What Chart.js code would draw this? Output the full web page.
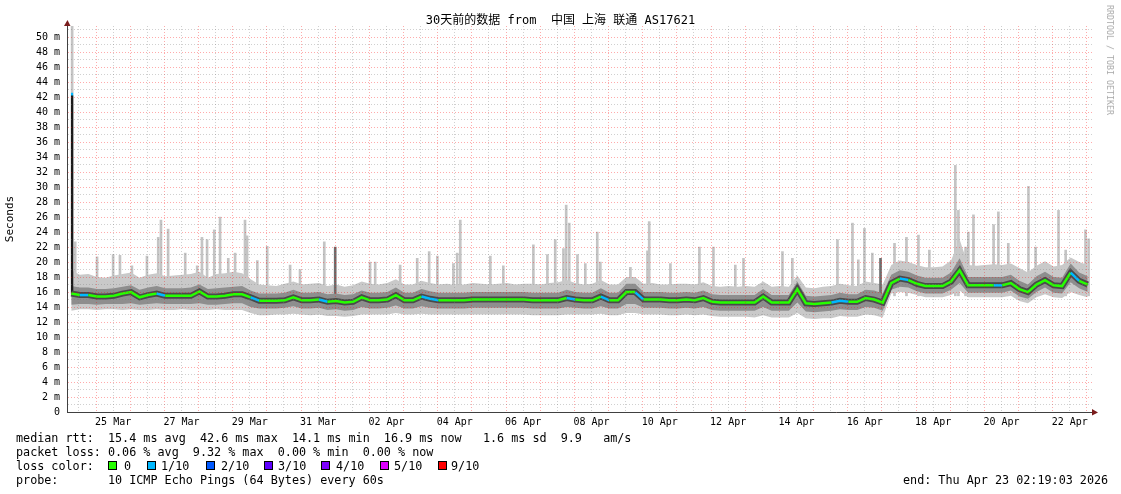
<!DOCTYPE html>
<html>
<head>
<meta charset="utf-8">
<script src="https://cdn.jsdelivr.net/npm/chart.js@4.4.1/dist/chart.umd.min.js"></script>
<style>
  html, body { margin: 0; padding: 0; background: #fff; }
  #wrap { position: relative; width: 1121px; height: 494px; overflow: hidden; }
  #chart { position: absolute; left: 0; top: 0; }
  .mono { position: absolute; font-family: "DejaVu Sans Mono", monospace; color: #000; white-space: pre; line-height: 14px; }
  #title { top: 13px; left: 0; width: 1121px; text-align: center; font-size: 12px; font-family: "DejaVu Sans Mono", "Noto Sans CJK SC", monospace; }
  .leg { left: 16px; font-size: 11.75px; }
  .box { position: absolute; width: 7px; height: 7px; border: 1px solid #000; }
  #mark { left: 1110px; top: 60px; font-size: 8.3px; color: #aaa; transform: translate(-50%, -50%) rotate(90deg); }
</style>
</head>
<body>
<div id="wrap">
  <canvas id="chart" width="1121" height="494"></canvas>
  <div id="title" class="mono">30天前的数据 from  中国 上海 联通 AS17621</div>
  <div id="mark" class="mono">RRDTOOL / TOBI OETIKER</div>
  <div class="mono leg" style="top:431px">median rtt:  15.4 ms avg  42.6 ms max  14.1 ms min  16.9 ms now   1.6 ms sd  9.9   am/s</div>
  <div class="mono leg" style="top:445px">packet loss: 0.06 % avg  9.32 % max  0.00 % min  0.00 % now</div>
  <div class="mono leg" style="top:459px">loss color:</div>
  <div class="mono leg" style="top:473px">probe:       10 ICMP Echo Pings (64 Bytes) every 60s</div>
  <div class="mono leg" style="top:473px;left:903px">end: Thu Apr 23 02:19:03 2026</div>
  <div id="lossRow"></div>
</div>
<script>
// x axis: days since 24 Mar 00:00, one bin every 6 hours
const startDay = 0.15;
const binDays = 0.25;
const xLabels = ['25 Mar', '27 Mar', '29 Mar', '31 Mar', '02 Apr', '04 Apr', '06 Apr', '08 Apr',
                 '10 Apr', '12 Apr', '14 Apr', '16 Apr', '18 Apr', '20 Apr', '22 Apr'];

// median rtt (ms)
const med = [
  15.8, 15.6, 15.6, 15.4, 15.4, 15.5, 15.8, 16.0, 15.3, 15.6,
  15.8, 15.5, 15.5, 15.5, 15.5, 16.1, 15.4, 15.4, 15.5, 15.7,
  15.7, 15.3, 14.85, 14.85, 14.85, 14.9, 15.3, 14.9, 14.9, 15.0,
  14.7, 14.8, 14.6, 14.7, 15.3, 14.9, 14.9, 15.0, 15.6, 14.9,
  14.9, 15.4, 15.1, 14.9, 14.9, 14.9, 14.9, 15.0, 15.0, 15.0,
  15.0, 15.0, 15.0, 15.0, 14.9, 14.9, 14.9, 14.9, 15.2, 15.0,
  14.9, 14.9, 15.4, 14.9, 14.9, 16.0, 16.0, 15.0, 15.0, 15.0,
  14.9, 14.9, 15.0, 14.9, 15.2, 14.7, 14.6, 14.6, 14.6, 14.6,
  14.6, 15.4, 14.6, 14.6, 14.6, 16.4, 14.5, 14.4, 14.5, 14.6,
  14.85, 14.7, 14.7, 15.2, 15.0, 14.6, 17.2, 17.8, 17.6, 17.1,
  16.8, 16.8, 16.8, 17.4, 18.9, 16.9, 16.9, 16.9, 16.9, 16.9,
  17.2, 16.4, 16.0, 17.0, 17.6, 16.9, 16.8, 18.6, 17.5, 17.0
];
// lowest ping of each bin
const lo = [
  13.5, 13.7, 13.7, 13.6, 13.7, 13.7, 13.6, 13.7, 13.6, 13.6,
  13.7, 13.6, 13.6, 13.7, 13.6, 13.6, 13.6, 13.7, 13.6, 13.6,
  13.6, 13.2, 12.9, 12.9, 13.0, 13.0, 13.1, 13.0, 12.9, 13.0,
  12.8, 12.8, 12.7, 12.8, 13.0, 13.0, 13.0, 13.0, 13.2, 13.0,
  13.0, 13.1, 13.0, 13.0, 13.0, 13.0, 13.0, 13.0, 13.0, 13.0,
  13.0, 13.0, 13.0, 13.0, 12.9, 12.9, 12.9, 12.9, 13.0, 13.0,
  13.0, 13.0, 13.1, 12.9, 12.9, 13.2, 13.2, 13.0, 13.0, 13.0,
  12.9, 12.9, 13.0, 12.9, 13.0, 12.8, 12.7, 12.7, 12.7, 12.7,
  12.6, 12.9, 12.6, 12.6, 12.6, 13.2, 12.5, 12.4, 12.5, 12.5,
  12.8, 12.7, 12.7, 13.0, 12.9, 12.6, 15.8, 16.0, 15.9, 15.6,
  15.3, 15.3, 15.3, 15.6, 16.2, 15.3, 15.3, 15.3, 15.3, 15.3,
  15.5, 14.8, 14.5, 15.3, 15.7, 15.3, 15.2, 16.0, 15.6, 15.3
];
// lower edge of the dense smoke
const mlo = [
  14.3, 14.4, 14.4, 14.3, 14.4, 14.4, 14.4, 14.5, 14.3, 14.4,
  14.5, 14.4, 14.4, 14.4, 14.4, 14.5, 14.3, 14.3, 14.4, 14.5,
  14.5, 14.0, 13.8, 13.8, 13.8, 13.9, 14.1, 13.8, 13.8, 13.9,
  13.6, 13.7, 13.5, 13.6, 14.0, 13.8, 13.8, 13.9, 14.2, 13.8,
  13.8, 14.1, 13.9, 13.8, 13.8, 13.8, 13.8, 13.9, 13.9, 13.9,
  13.9, 13.9, 13.9, 13.9, 13.8, 13.8, 13.8, 13.8, 14.0, 13.9,
  13.8, 13.8, 14.1, 13.8, 13.8, 14.4, 14.4, 13.9, 13.9, 13.9,
  13.8, 13.8, 13.9, 13.8, 14.0, 13.6, 13.5, 13.5, 13.5, 13.5,
  13.5, 14.0, 13.5, 13.5, 13.5, 14.6, 13.4, 13.3, 13.4, 13.5,
  13.7, 13.6, 13.6, 14.0, 13.9, 13.5, 16.3, 16.7, 16.6, 16.1,
  15.8, 15.8, 15.8, 16.3, 17.2, 15.9, 15.9, 15.9, 15.9, 15.9,
  16.2, 15.4, 15.1, 16.0, 16.6, 15.9, 15.8, 17.3, 16.5, 16.0
];
// upper edge of the dense smoke
const mhi = [
  16.8, 16.6, 16.6, 16.4, 16.4, 16.5, 16.7, 16.9, 16.3, 16.6,
  16.8, 16.5, 16.5, 16.5, 16.6, 17.0, 16.4, 16.5, 16.6, 16.7,
  16.8, 16.2, 15.8, 15.8, 15.8, 15.9, 16.3, 15.9, 15.9, 16.0,
  15.7, 15.8, 15.6, 15.7, 16.2, 15.9, 15.9, 16.0, 16.6, 15.9,
  15.9, 16.4, 16.1, 15.9, 15.9, 15.9, 15.9, 16.0, 16.0, 16.0,
  16.0, 16.0, 16.0, 16.0, 15.9, 15.9, 15.9, 15.9, 16.3, 16.0,
  15.9, 15.9, 16.5, 15.9, 15.9, 17.1, 17.1, 16.0, 16.0, 16.0,
  15.9, 15.9, 16.0, 15.9, 16.2, 15.7, 15.6, 15.6, 15.6, 15.6,
  15.6, 16.4, 15.6, 15.6, 15.6, 17.4, 15.5, 15.4, 15.5, 15.6,
  15.9, 15.7, 15.7, 16.3, 16.2, 15.8, 18.3, 18.9, 18.7, 18.2,
  17.9, 17.9, 17.9, 18.6, 20.5, 18.0, 18.0, 18.0, 18.0, 18.0,
  18.3, 17.5, 17.0, 18.1, 18.7, 18.0, 17.9, 19.8, 18.6, 18.1
];
// highest ping of each bin (without the lone outliers)
const hi = [
  18.9, 18.3, 18.4, 18.0, 17.9, 18.2, 18.4, 18.6, 17.9, 18.3,
  18.5, 18.1, 18.2, 18.3, 18.4, 18.7, 17.9, 18.4, 18.5, 18.7,
  18.5, 17.7, 17.0, 16.9, 16.8, 17.1, 17.4, 17.0, 17.1, 17.2,
  16.8, 17.0, 16.7, 16.9, 17.4, 17.1, 17.0, 17.2, 17.7, 17.0,
  17.0, 17.5, 17.2, 17.0, 17.1, 16.9, 17.0, 17.2, 17.1, 17.0,
  17.1, 17.2, 17.0, 17.1, 17.1, 17.0, 17.2, 17.3, 17.6, 17.2,
  17.0, 17.1, 17.6, 17.0, 17.0, 18.0, 18.0, 17.1, 17.2, 17.0,
  17.0, 17.1, 17.1, 17.0, 17.3, 16.8, 16.7, 16.8, 16.7, 16.8,
  16.7, 17.4, 16.7, 16.8, 16.7, 18.2, 16.6, 16.5, 16.7, 16.8,
  17.1, 16.9, 16.8, 17.4, 17.2, 17.0, 19.6, 20.2, 20.0, 19.6,
  19.3, 19.3, 19.4, 20.2, 23.0, 19.6, 19.5, 19.6, 19.7, 19.6,
  19.8, 19.2, 18.6, 19.5, 20.1, 19.4, 19.6, 20.6, 20.0, 19.6
];
// lost pings out of 10 per bin
const loss = [
  0, 1, 0, 0, 0, 0, 0, 0, 0, 0,
  1, 0, 0, 0, 0, 0, 0, 0, 0, 0,
  0, 1, 0, 0, 0, 0, 0, 0, 0, 1,
  0, 0, 0, 0, 0, 0, 0, 0, 0, 0,
  0, 1, 1, 0, 0, 0, 0, 0, 0, 0,
  0, 0, 0, 0, 0, 0, 0, 0, 1, 0,
  0, 0, 1, 0, 0, 0, 1, 0, 0, 0,
  0, 0, 0, 0, 0, 0, 0, 0, 0, 0,
  0, 0, 0, 0, 0, 0, 0, 0, 0, 1,
  1, 0, 0, 0, 0, 0, 0, 1, 0, 0,
  0, 0, 0, 0, 0, 0, 0, 0, 1, 0,
  0, 0, 0, 0, 0, 0, 0, 1, 0, 0
];
// lone high pings
const spikeDays = [
  0.30, 0.39, 1.03, 1.50, 1.70, 2.05, 2.49, 2.82, 2.90, 3.11,
  3.61, 3.96, 4.10, 4.25, 4.46, 4.63, 4.87, 5.07, 5.36, 5.42,
  5.72, 6.01, 6.68, 6.97, 7.68, 9.02, 9.17, 9.90, 10.40, 10.75,
  10.99, 11.46, 11.57, 11.66, 12.54, 12.92, 13.80, 14.21, 14.44, 14.68,
  14.76, 14.85, 15.09, 15.32, 15.67, 15.76, 16.64, 17.14, 17.19, 17.81,
  18.66, 19.07, 19.71, 19.95, 21.09, 21.38, 22.70, 23.14, 23.31, 23.49,
  23.72, 24.37, 24.72, 25.07, 25.39, 26.15, 26.24, 26.45, 26.53, 26.68,
  27.27, 27.41, 27.70, 28.29, 28.50, 29.17, 29.38, 29.96, 30.05
];
const spikeTops = [
  51.5, 22.7, 20.7, 21.0, 20.9, 19.5, 20.8, 23.3, 25.6, 24.4,
  21.2, 19.5, 23.3, 23.0, 24.3, 26.0, 20.5, 21.2, 25.6, 23.5,
  20.2, 22.1, 19.6, 19.0, 22.7, 20.0, 20.0, 19.6, 20.5, 21.4,
  20.8, 19.8, 21.2, 25.6, 20.8, 19.5, 22.3, 21.0, 23.0, 21.8,
  27.6, 25.2, 21.0, 19.8, 24.0, 20.0, 19.3, 21.5, 25.4, 19.8,
  22.0, 22.0, 19.6, 20.5, 21.4, 20.5, 23.0, 25.2, 20.3, 24.5,
  21.2, 22.5, 23.3, 23.6, 21.6, 32.9, 26.9, 22.0, 24.0, 26.3,
  25.0, 26.7, 22.5, 30.1, 22.0, 26.9, 21.6, 24.3, 23.1
];
const darkSpikeDays = [8.00, 23.96];
const darkSpikeTops = [22.0, 20.5];
// the 42.6 ms median outlier
const medSpikeDay = 0.30;
const medSpikeRange = [15.8, 42.6];

const lossLabels = ['0', '1/10', '2/10', '3/10', '4/10', '5/10', '9/10'];
const lossSteps = [0, 1, 2, 3, 4, 5, 9];
const lossColors = ['#26ff00', '#00b8ff', '#0059ff', '#5e00ff', '#7e00ff', '#dd00ff', '#ff0000'];

const mono = '"DejaVu Sans Mono", monospace';
const redGrid = 'rgba(255, 0, 0, 0.33)';
const grayGrid = 'rgba(120, 120, 120, 0.35)';

function lossColor(n) {
    let c = lossColors[0];
    lossSteps.forEach((s, i) => { if (n >= s) c = lossColors[i]; });
    return c;
}

const pts = arr => arr.map((v, i) => ({ x: startDay + binDays * (i + 0.5), y: v }));
const bars = (days, tops) => days.map((d, i) => ({ x: d, y: tops[i] }));

// legend boxes for loss colours
const lossRow = document.getElementById('lossRow');
const boxX = [108, 147, 206, 264, 321, 380, 438];
const labX = [124, 161, 221, 278, 336, 394, 451];
lossLabels.forEach((t, i) => {
    const b = document.createElement('div');
    b.className = 'box';
    b.style.left = boxX[i] + 'px';
    b.style.top = '461px';
    b.style.background = lossColors[i];
    lossRow.appendChild(b);
    const l = document.createElement('div');
    l.className = 'mono leg';
    l.style.left = labX[i] + 'px';
    l.style.top = '459px';
    l.textContent = t;
    lossRow.appendChild(l);
});

// axis arrows like rrdtool
const arrows = {
    id: 'arrows',
    afterDraw(chart) {
        const { ctx, chartArea: a } = chart;
        ctx.save();
        ctx.fillStyle = '#7a1c1c';
        ctx.beginPath();
        ctx.moveTo(a.left - 3, a.top);
        ctx.lineTo(a.left + 3.5, a.top);
        ctx.lineTo(a.left + 0.5, a.top - 6);
        ctx.fill();
        ctx.beginPath();
        ctx.moveTo(a.right, a.bottom - 3);
        ctx.lineTo(a.right, a.bottom + 3.5);
        ctx.lineTo(a.right + 6, a.bottom + 0.5);
        ctx.fill();
        ctx.restore();
    }
};

const line = (data, extra) => Object.assign({
    type: 'line', data: pts(data), pointRadius: 0, borderWidth: 0, fill: false
}, extra);

const isWhole = c => c.tick && Number.isInteger(c.tick.value);
const isEven = c => c.tick && c.tick.value % 2 === 0;

new Chart(document.getElementById('chart'), {
    type: 'line',
    data: {
        datasets: [
            line(lo, { order: 19 }),
            line(hi, { order: 18, fill: '-1', backgroundColor: '#c9c9c9' }),
            line(mlo, { order: 16 }),
            line(mhi, { order: 15, fill: '-1', backgroundColor: '#8e8e8e' }),
            { type: 'bar', data: bars(spikeDays, spikeTops), base: 15.5, backgroundColor: '#c4c4c4',
              barThickness: 2, grouped: false, order: 20 },
            { type: 'bar', data: bars(darkSpikeDays, darkSpikeTops), base: 15.5, backgroundColor: '#6e6e6e',
              barThickness: 2, grouped: false, order: 17 },
            { type: 'bar', data: [{ x: medSpikeDay, y: medSpikeRange }], backgroundColor: '#1a1a1a',
              borderColor: lossColors[1], borderWidth: { top: 3, left: 0, right: 0, bottom: 0 },
              borderSkipped: false, barThickness: 2.5, grouped: false, order: 3 },
            line(med, { order: 2, borderWidth: 6, borderColor: '#4a4a4a' }),
            line(med, { order: 1, borderWidth: 2.5, borderColor: lossColors[0],
                        segment: { borderColor: c => lossColor(loss[c.p0DataIndex]) } })
        ]
    },
    options: {
        responsive: false,
        animation: false,
        events: [],
        layout: { padding: { top: 26, right: 29, bottom: 0, left: 0 } },
        plugins: { legend: { display: false }, tooltip: { enabled: false } },
        scales: {
            x: {
                type: 'linear', min: 0.15, max: 30.15, offset: false,
                afterBuildTicks: axis => {
                    const t = [];
                    for (let d = 1; d <= 60; d++) t.push({ value: d / 2 });
                    axis.ticks = t;
                },
                afterFit: axis => { axis.height = 82; },
                ticks: {
                    autoSkip: false, maxRotation: 0, padding: 4, color: '#000',
                    font: { family: mono, size: 10 },
                    callback: v => {
                        const i = (v - 1.5) / 2;
                        return Number.isInteger(i) && i >= 0 && i < xLabels.length ? xLabels[i] : '';
                    }
                },
                grid: { offset: false, drawTicks: false, z: 1, color: c => isWhole(c) ? redGrid : grayGrid },
                border: { display: true, color: '#404040', width: 1, dash: [1, 2], z: 2 }
            },
            y: {
                min: 0, max: 51.5,
                afterBuildTicks: axis => {
                    const t = [];
                    for (let v = 0; v <= 51; v++) t.push({ value: v });
                    axis.ticks = t;
                },
                afterFit: axis => { axis.width = 67; },
                ticks: {
                    autoSkip: false, padding: 7, color: '#000',
                    font: { family: mono, size: 10 },
                    callback: v => v % 2 ? '' : (v === 0 ? '0' : v + ' m')
                },
                grid: { drawTicks: false, z: 1, color: c => isEven(c) ? redGrid : grayGrid },
                border: { display: true, color: '#404040', width: 1, dash: [1, 2], z: 2 },
                title: { display: true, text: 'Seconds', color: '#000', padding: { top: 4, bottom: 0 },
                         font: { family: mono, size: 11 } }
            }
        }
    },
    plugins: [arrows]
});
</script>
</body>
</html>
